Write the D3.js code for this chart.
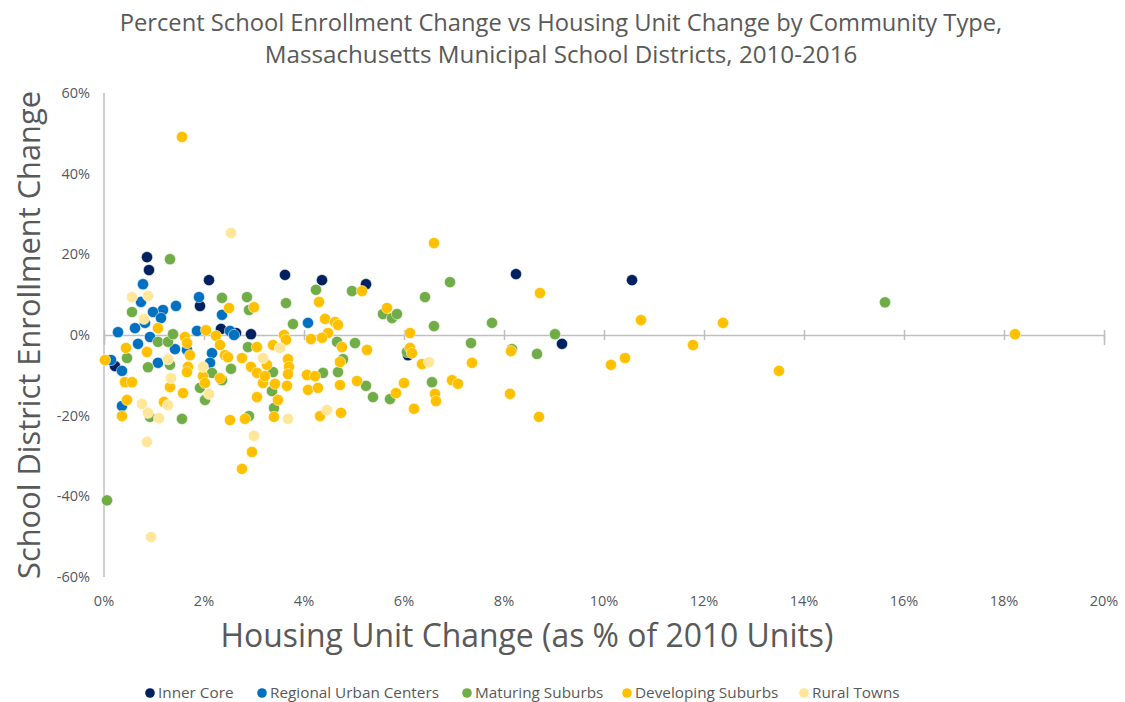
<!DOCTYPE html>
<html>
<head>
<meta charset="utf-8">
<script src="https://cdn.jsdelivr.net/npm/d3@7"></script>
<style>
  body { margin: 0; background: #fff; }
  svg text { font-family: "Open Sans", "DejaVu Sans", sans-serif; fill: #595959; }
</style>
</head>
<body>
<svg id="chart" width="1125" height="702"></svg>
<script>
// values: [housing unit change %, enrollment change %]
const innerCore = [
  [0.22,-7.7],[0.86,19.3],[0.9,16.1],[1.92,7.2],[2.1,13.6],[2.34,1.5],[2.64,0.5],
  [2.94,0.2],[3.62,14.9],[4.36,13.6],[5.24,12.6],[6.08,-5.0],[8.24,15.1],[9.16,-2.2],[10.56,13.6]
];
const urbanCenters = [
  [0.78,12.6],[0.74,8.2],[1.9,9.4],[1.44,7.2],[1.18,6.2],[0.98,5.7],[1.14,4.2],[0.82,3.0],
  [0.62,1.7],[0.28,0.7],[0.92,-0.5],[0.68,-2.2],[2.36,5.0],[1.86,1.0],[2.52,1.0],[2.6,0.0],
  [0.14,-6.2],[0.36,-8.9],[1.42,-3.5],[1.08,-6.9],[2.16,-4.5],[2.12,-6.9],[0.36,-17.6],
  [4.08,3.0],[1.66,-3.7]
];
const maturingSuburbs = [
  [0.06,-41.0],[0.46,-5.7],[0.56,5.7],[0.88,-8.0],[0.92,-20.3],[1.08,-1.7],[1.28,-1.7],
  [1.32,18.8],[1.32,-7.4],[1.38,0.2],[1.56,-20.8],[1.92,-13.1],[2.02,-16.1],[2.16,-9.4],
  [2.36,9.2],[2.36,-11.2],[2.54,-8.4],[2.86,9.4],[2.9,6.2],[2.88,-3.0],[2.9,-20.1],
  [3.38,-9.2],[3.36,-13.9],[3.4,-18.1],[3.64,7.9],[3.78,2.7],[4.24,11.2],[4.38,-9.4],
  [4.66,-1.7],[4.68,-9.2],[4.78,-6.0],[4.96,10.9],[5.02,-2.0],[5.24,-12.6],[5.38,-15.4],
  [5.58,5.2],[5.72,-15.9],[5.76,4.2],[5.86,5.2],[6.06,-4.2],[6.42,9.4],[6.56,-11.7],
  [6.6,2.2],[6.92,13.1],[7.34,-2.0],[7.76,3.0],[8.16,-3.5],[8.66,-4.7],[9.02,0.2],[15.62,8.1]
];
const developingSuburbs = [
  [1.56,49.1],[0.02,-6.2],[0.44,-3.2],[0.86,-4.2],[0.42,-11.7],[0.56,-11.7],[0.46,-16.1],
  [0.36,-20.1],[1.08,1.7],[1.62,-0.5],[1.66,-2.0],[2.04,1.2],[2.24,-0.2],[2.32,-2.5],
  [2.42,-5.0],[2.48,-5.5],[1.72,-5.0],[1.68,-7.9],[1.66,-9.2],[1.98,-10.2],[2.02,-11.9],
  [2.32,-10.7],[1.32,-12.9],[1.58,-14.4],[1.2,-16.6],[2.5,6.7],[3.0,6.9],[2.76,-5.7],
  [2.94,-7.9],[3.06,-3.0],[3.38,-2.5],[3.6,0.0],[3.64,-1.2],[3.06,-9.4],[3.18,-11.9],
  [3.42,-12.1],[3.66,-12.6],[3.68,-6.0],[3.7,-7.9],[3.68,-9.7],[3.06,-15.4],[3.48,-16.1],
  [3.4,-20.3],[2.82,-20.8],[2.52,-21.1],[2.96,-29.0],[2.76,-33.2],[3.26,-7.4],[3.22,-10.2],
  [4.06,-9.9],[4.22,-10.2],[4.08,-13.6],[4.28,-13.1],[4.32,-20.1],[4.72,-6.7],[4.72,-12.4],
  [4.74,-19.3],[4.3,8.2],[4.42,4.0],[4.62,3.2],[4.68,2.5],[4.48,0.5],[4.36,-0.7],[4.14,-1.0],
  [4.76,-3.0],[5.06,-11.4],[5.16,10.9],[5.66,6.7],[5.26,-3.7],[6.12,0.5],[6.12,-3.2],
  [6.16,-4.5],[6.36,-7.2],[6.0,-11.9],[5.84,-14.4],[6.62,-14.6],[6.64,-16.4],[6.2,-18.3],
  [6.6,22.8],[6.96,-11.2],[7.08,-12.1],[7.36,-6.9],[8.72,10.4],[8.14,-4.0],[8.12,-14.6],
  [8.7,-20.3],[10.14,-7.4],[10.42,-5.7],[10.74,3.7],[11.78,-2.5],[12.38,3.0],[13.5,-8.9],[18.22,0.2]
];
const ruralTowns = [
  [2.54,25.3],[0.56,9.4],[0.88,9.7],[0.8,4.0],[1.28,-6.0],[1.34,-10.7],[0.76,-17.1],
  [0.88,-19.3],[1.1,-20.6],[1.28,-17.4],[0.86,-26.5],[1.98,-7.9],[2.1,-14.6],[0.94,-50.1],
  [3.18,-5.7],[3.52,-3.2],[3.68,-20.8],[4.46,-18.6],[3.0,-25.0],[6.5,-6.7]
];

const seriesNames = ["Inner Core","Regional Urban Centers","Maturing Suburbs","Developing Suburbs","Rural Towns"];
const seriesData = [innerCore, urbanCenters, maturingSuburbs, developingSuburbs, ruralTowns];
const seriesColors = ["#002060","#0070C0","#70AD47","#FFC000","#FFE699"];
const xTicks = [0,2,4,6,8,10,12,14,16,18,20];
const yTicks = [-60,-40,-20,0,20,40,60];

const svg = d3.select("#chart");
const plotL = 104, plotR = 1104, plotT = 93, plotB = 577;

const x = d3.scaleLinear().domain([0,20]).range([plotL,plotR]);
const y = d3.scaleLinear().domain([-60,60]).range([plotB,plotT]);

// squeeze a text to a measured width by changing its font size
function fit(sel, w) {
  const n = sel.node();
  const fs = parseFloat(sel.attr("font-size"));
  sel.attr("font-size", fs * w / n.getComputedTextLength());
}

// title
fit(svg.append("text").attr("x",561).attr("y",31).attr("text-anchor","middle").attr("font-size",22)
  .text("Percent School Enrollment Change vs Housing Unit Change by Community Type,"), 883);
fit(svg.append("text").attr("x",561).attr("y",63).attr("text-anchor","middle").attr("font-size",22)
  .text("Massachusetts Municipal School Districts, 2010-2016"), 593);

// y axis
svg.append("line").attr("x1",plotL).attr("x2",plotL).attr("y1",plotT).attr("y2",plotB)
  .attr("stroke","#BFBFBF").attr("stroke-width",1.5);
svg.append("g").selectAll("text").data(yTicks).join("text")
  .attr("x",90).attr("y",d => y(d)).attr("dy","0.35em").attr("text-anchor","end")
  .attr("font-size",14.5).text(d => d + "%");

// x axis sits at 0%
const xAxis = svg.append("g").attr("transform",`translate(0,${y(0)})`)
  .call(d3.axisBottom(x).tickValues(xTicks).tickSize(10).tickFormat(""));
xAxis.select(".domain").attr("stroke","#BFBFBF").attr("stroke-width",1.5);
xAxis.selectAll(".tick line").attr("stroke","#BFBFBF").attr("stroke-width",1.5).attr("y1",-5).attr("y2",5);

svg.append("g").selectAll("text").data(xTicks).join("text")
  .attr("x",d => x(d)).attr("y",606).attr("text-anchor","middle")
  .attr("font-size",14.5).text(d => d + "%");

// axis titles
fit(svg.append("text").attr("transform",`translate(40,${(plotT+plotB)/2}) rotate(-90)`)
  .attr("text-anchor","middle").attr("font-size",29).text("School District Enrollment Change"), 488);
fit(svg.append("text").attr("x",527).attr("y",647).attr("text-anchor","middle").attr("font-size",29)
  .text("Housing Unit Change (as % of 2010 Units)"), 613);

// points
seriesData.forEach((pts, i) => {
  svg.append("g").selectAll("circle").data(pts).join("circle")
    .attr("cx", d => x(d[0])).attr("cy", d => y(d[1])).attr("r", 5.6)
    .attr("fill", seriesColors[i]).attr("stroke","#fff").attr("stroke-width",0.5);
});

// legend
const legendX = [150,262,467,627,804];
const lg = svg.append("g").selectAll("g").data(seriesNames).join("g")
  .attr("transform",(d,i) => `translate(${legendX[i]},693)`);
lg.append("circle").attr("r",4.8).attr("fill",(d,i) => seriesColors[i]);
lg.append("text").attr("x",8).attr("dy","0.35em").attr("font-size",15.3).text(d => d);
</script>
</body>
</html>
